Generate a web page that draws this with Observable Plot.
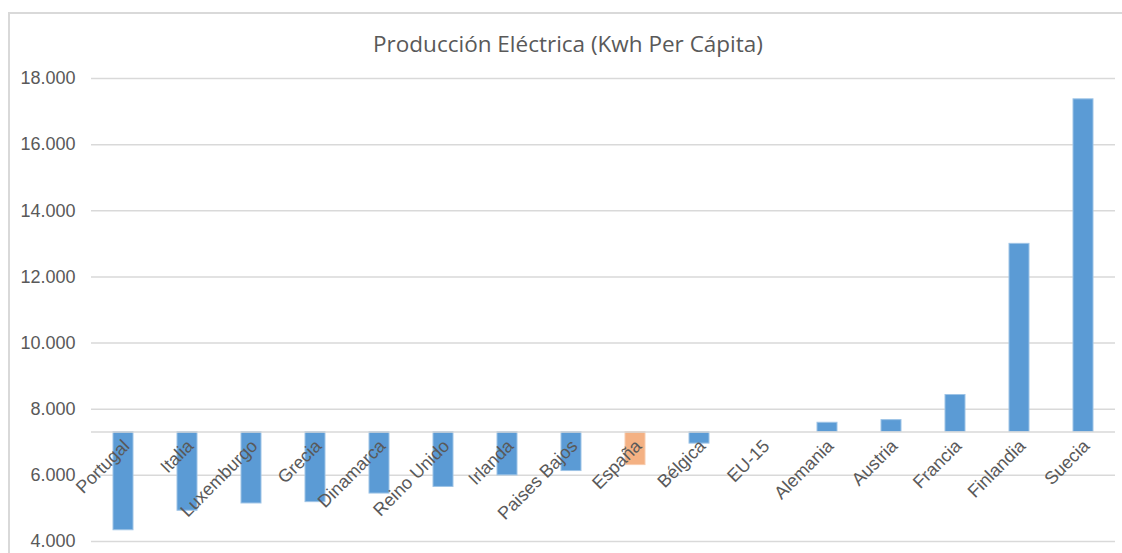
<!DOCTYPE html>
<html>
<head>
<meta charset="utf-8">
<script src="https://cdn.jsdelivr.net/npm/d3@7"></script>
<script src="https://cdn.jsdelivr.net/npm/@observablehq/plot@0.6"></script>
<style>
  html, body { margin: 0; padding: 0; background: #fff; }
  #wrap { position: relative; width: 1122px; height: 553px; overflow: hidden; }
  #border { position: absolute; left: 8px; top: 12px; width: 1200px; height: 600px; border-left: 2px solid #d9d9d9; border-top: 2px solid #d9d9d9; box-sizing: border-box; }
  #title { position: absolute; left: 0; width: 1136px; top: 28px; text-align: center; font-family: "Open Sans", sans-serif; font-size: 22.5px; color: #595959; }
  #chart { position: absolute; left: 0; top: 0; }
</style>
</head>
<body>
<div id="wrap">
  <div id="border"></div>
  <div id="chart"></div>
  <div id="title">Producción Eléctrica (Kwh Per Cápita)</div>
</div>
<script>
const countries = ["Portugal","Italia","Luxemburgo","Grecia","Dinamarca","Reino Unido","Irlanda","Paises Bajos","España","Bélgica","EU-15","Alemania","Austria","Francia","Finlandia","Suecia"];
const values = [4340, 4930, 5150, 5190, 5450, 5650, 6000, 6130, 6310, 6960, 7310, 7590, 7670, 8430, 13000, 17370];
const baseline = 7310;
const highlight = "España";
const yTicks = [4000, 6000, 8000, 10000, 12000, 14000, 16000, 18000];

const data = countries.map((c, i) => ({country: c, value: values[i]}));
const es = d3.formatLocale({decimal: ",", thousands: ".", grouping: [3], currency: ["", "€"]});
const fmt = es.format(",");

const chart = Plot.plot({
  width: 1122,
  height: 553,
  marginLeft: 91,
  marginRight: 7,
  marginTop: 78,
  marginBottom: 12,
  style: {fontFamily: "'Liberation Sans', Arial, sans-serif", fontSize: "18px", color: "#595959", background: "transparent"},
  x: {domain: countries, paddingInner: 0.69, paddingOuter: 0.345, axis: null},
  y: {domain: [4000, 18000], ticks: yTicks, tickFormat: fmt, tickSize: 0, tickPadding: 16, label: null},
  marks: [
    Plot.gridY(yTicks, {stroke: "#d9d9d9", strokeOpacity: 1, strokeWidth: 1.5}),
    Plot.barY(data.filter(d => d.value !== baseline), {
      x: "country", y1: baseline, y2: "value",
      fill: d => d.country === highlight ? "#f4b183" : "#5b9bd5",
      stroke: d => d.country === highlight ? "#f8cbad" : "#9dc3e6",
      strokeWidth: 1
    }),
    Plot.ruleY([baseline], {stroke: "#d9d9d9", strokeWidth: 1.5}),
    Plot.text(data, {x: "country", y: () => baseline, text: "country", rotate: -45, textAnchor: "end", dx: 3, dy: 11, fill: "#595959", fontSize: 18})
  ]
});
document.getElementById("chart").appendChild(chart);
</script>
</body>
</html>
